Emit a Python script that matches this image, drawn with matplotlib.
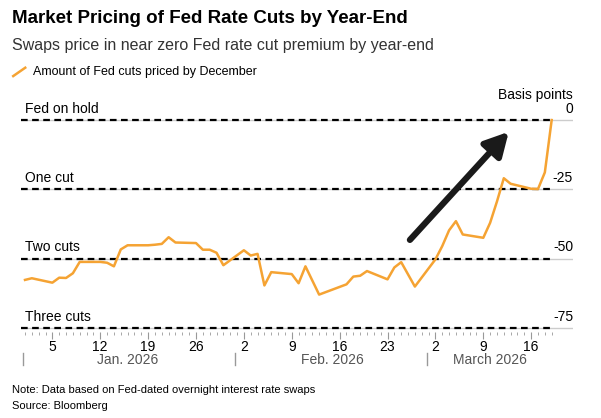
import numpy as np
import pandas as pd
import matplotlib.pyplot as plt
import matplotlib.dates as mdates

plt.rcParams['font.family'] = ['Liberation Sans', 'DejaVu Sans']

dates = ['2026-01-01', '2026-01-02', '2026-01-05', '2026-01-06', '2026-01-07', '2026-01-08', '2026-01-09',
         '2026-01-12', '2026-01-13', '2026-01-14', '2026-01-15', '2026-01-16', '2026-01-19', '2026-01-20',
         '2026-01-21', '2026-01-22', '2026-01-23', '2026-01-26', '2026-01-27', '2026-01-28', '2026-01-29',
         '2026-01-30', '2026-02-02', '2026-02-03', '2026-02-04', '2026-02-05', '2026-02-06', '2026-02-09',
         '2026-02-10', '2026-02-11', '2026-02-13', '2026-02-17', '2026-02-18', '2026-02-19', '2026-02-20',
         '2026-02-23', '2026-02-24', '2026-02-25', '2026-02-27', '2026-03-02', '2026-03-03', '2026-03-04',
         '2026-03-05', '2026-03-06', '2026-03-09', '2026-03-10', '2026-03-11', '2026-03-12', '2026-03-13',
         '2026-03-16', '2026-03-17', '2026-03-18', '2026-03-19']
cuts = [-57.7, -57.1, -58.7, -56.9, -57.0, -55.3, -51.2,
        -51.2, -51.5, -52.8, -46.7, -45.2, -45.2, -45.0,
        -44.7, -42.3, -44.2, -44.4, -46.8, -46.8, -47.9,
        -52.4, -47.0, -48.9, -48.3, -59.7, -54.9, -55.6,
        -58.9, -52.8, -63.0, -59.3, -56.5, -56.2, -54.5,
        -57.5, -53.2, -51.3, -60.1, -50.3, -45.5, -39.8,
        -36.5, -41.3, -42.5, -37.1, -29.4, -21.0, -23.0,
        -24.8, -24.9, -18.9, 0.0]
levels = [0, -25, -50, -75]
level_labels = ['Fed on hold', 'One cut', 'Two cuts', 'Three cuts']

x = pd.to_datetime(dates)
orange = '#f5a333'

fig = plt.figure(figsize=(6.01, 4.18), dpi=100)
x0 = pd.Timestamp('2026-01-01')
x1 = pd.Timestamp('2026-03-19')
# axes placed so Jan 1 sits at ~25px and Mar 19 at ~552px
left_px, right_px = 21, 573
days_span = (right_px - left_px) / 6.84
ax = fig.add_axes([left_px / 601, 1 - 332 / 418, (right_px - left_px) / 601, (332 - 114.5) / 418])
xmin = x0 - pd.Timedelta(days=(25 - left_px) / 6.84)
ax.set_xlim(xmin, xmin + pd.Timedelta(days=days_span))
ax.set_ylim(-76.5, 2)

for lv, lab in zip(levels, level_labels):
    ax.axhline(lv, color='#cccccc', lw=1, zorder=1)
    ax.plot([ax.get_xlim()[0], mdates.date2num(x1)], [lv, lv], color='black', lw=1.6,
            ls=(0, (3, 2)), zorder=2)
    ax.text(mdates.date2num(x0), lv + 1.5, lab, fontsize=10, va='bottom', ha='left')
    ax.text(1.0, lv + 1.5, str(lv), transform=ax.get_yaxis_transform(), fontsize=10,
            va='bottom', ha='right')
ax.text(1.0, 6.5, 'Basis points', transform=ax.get_yaxis_transform(), fontsize=10,
        va='bottom', ha='right', clip_on=False)

ax.plot(x, cuts, color=orange, lw=1.8, zorder=3)

ax.annotate('', xy=(mdates.date2num(pd.Timestamp('2026-03-13')), -3.5),
            xytext=(mdates.date2num(pd.Timestamp('2026-02-26')), -44),
            arrowprops=dict(arrowstyle='-|>,head_width=0.75,head_length=1.4', color='#1a1a1a', lw=4.5))

for s in ax.spines.values():
    s.set_visible(False)
ax.set_yticks([])
tick_days = pd.to_datetime(['2026-01-05', '2026-01-12', '2026-01-19', '2026-01-26', '2026-02-02',
                            '2026-02-09', '2026-02-16', '2026-02-23', '2026-03-02', '2026-03-09',
                            '2026-03-16'])
ax.set_xticks(tick_days)
ax.set_xticklabels([str(d.day) for d in tick_days], fontsize=10)
ax.set_xticks(pd.date_range('2026-01-01', '2026-03-19'), minor=True)
ax.tick_params(axis='x', which='major', length=5, color='#999999', pad=1)
ax.tick_params(axis='x', which='minor', length=2.5, color='#999999')

months = [('2026-01-01', 'Jan. 2026', '2026-01-16'), ('2026-02-01', 'Feb. 2026', '2026-02-15'),
          ('2026-03-01', 'March 2026', '2026-03-10')]
for start, lab, mid in months:
    xs = mdates.date2num(pd.Timestamp(start)) - 0.3
    ax.plot([xs, xs], [-84, -88.5], color='#999999', lw=1, clip_on=False,
            transform=ax.transData)
    ax.text(mdates.date2num(pd.Timestamp(mid)), -86.5, lab, fontsize=10, color='#555555',
            ha='center', va='center')

fig.text(0.02, 0.955, 'Market Pricing of Fed Rate Cuts by Year-End', fontsize=13.5, fontweight='bold',
         va='center')
fig.text(0.02, 0.89, 'Swaps price in near zero Fed rate cut premium by year-end', fontsize=11.5,
         color='#333333', va='center')
fig.lines.append(plt.Line2D([0.022, 0.042], [0.818, 0.838], color=orange, lw=1.8, transform=fig.transFigure))
fig.text(0.055, 0.828, 'Amount of Fed cuts priced by December', fontsize=9, va='center')
fig.text(0.02, 0.066, 'Note: Data based on Fed-dated overnight interest rate swaps', fontsize=8, va='center')
fig.text(0.02, 0.028, 'Source: Bloomberg', fontsize=8, va='center')

fig.savefig('out.png', dpi=100)
